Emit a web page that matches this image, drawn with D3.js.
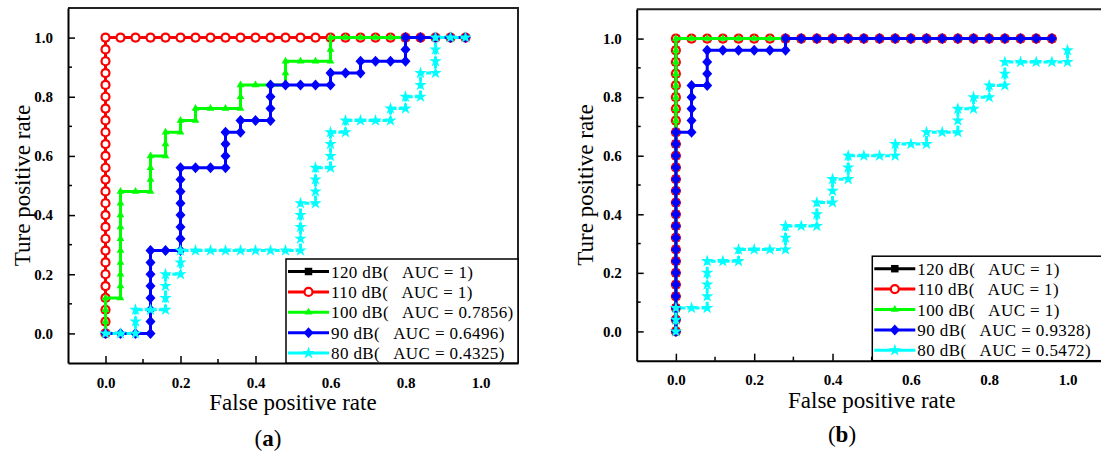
<!DOCTYPE html>
<html>
<head>
<meta charset="utf-8">
<script src="https://cdn.jsdelivr.net/npm/d3@7"></script>
<style>
  body { margin: 0; background: #fff; }
  svg { display: block; }
  text { font-family: "Liberation Serif", "Times New Roman", serif; fill: #000; }
</style>
</head>
<body>
<div id="chart"></div>
<script>
const width = 1101;
const height = 455;

// ROC points [false positive rate, true positive rate]
// perfect classifier (120 dB and 110 dB in (a); 120, 110 and 100 dB in (b))
const rocPerfect = [
    [0,0],[0,0.04],[0,0.08],[0,0.12],[0,0.16],[0,0.2],[0,0.24],[0,0.28],[0,0.32],[0,0.36],
    [0,0.4],[0,0.44],[0,0.48],[0,0.52],[0,0.56],[0,0.6],[0,0.64],[0,0.68],[0,0.72],[0,0.76],
    [0,0.8],[0,0.84],[0,0.88],[0,0.92],[0,0.96],[0,1],[0.04,1],[0.08,1],[0.12,1],[0.16,1],
    [0.2,1],[0.24,1],[0.28,1],[0.32,1],[0.36,1],[0.4,1],[0.44,1],[0.48,1],[0.52,1],[0.56,1],
    [0.6,1],[0.64,1],[0.68,1],[0.72,1],[0.76,1],[0.8,1],[0.84,1],[0.88,1],[0.92,1],[0.96,1]
];

// (a) 100 dB
const rocA100 = [
    [0,0],[0,0.04],[0,0.08],[0,0.12],[0.04,0.12],[0.04,0.16],[0.04,0.2],[0.04,0.24],[0.04,0.28],[0.04,0.32],
    [0.04,0.36],[0.04,0.4],[0.04,0.44],[0.04,0.48],[0.08,0.48],[0.12,0.48],[0.12,0.52],[0.12,0.56],[0.12,0.6],[0.16,0.6],
    [0.16,0.64],[0.16,0.68],[0.2,0.68],[0.2,0.72],[0.24,0.72],[0.24,0.76],[0.28,0.76],[0.32,0.76],[0.36,0.76],[0.36,0.8],
    [0.36,0.84],[0.4,0.84],[0.44,0.84],[0.48,0.84],[0.48,0.88],[0.48,0.92],[0.52,0.92],[0.56,0.92],[0.6,0.92],[0.6,0.96],
    [0.6,1],[0.64,1],[0.68,1],[0.72,1],[0.76,1],[0.8,1],[0.84,1],[0.88,1],[0.92,1],[0.96,1]
];

// (a) 90 dB
const rocA90 = [
    [0,0],[0.04,0],[0.08,0],[0.12,0],[0.12,0.04],[0.12,0.08],[0.12,0.12],[0.12,0.16],[0.12,0.2],[0.12,0.24],
    [0.12,0.28],[0.16,0.28],[0.2,0.28],[0.2,0.32],[0.2,0.36],[0.2,0.4],[0.2,0.44],[0.2,0.48],[0.2,0.52],[0.2,0.56],
    [0.24,0.56],[0.28,0.56],[0.32,0.56],[0.32,0.6],[0.32,0.64],[0.32,0.68],[0.36,0.68],[0.36,0.72],[0.4,0.72],[0.44,0.72],
    [0.44,0.76],[0.44,0.8],[0.44,0.84],[0.48,0.84],[0.52,0.84],[0.56,0.84],[0.6,0.84],[0.6,0.88],[0.64,0.88],[0.68,0.88],
    [0.68,0.92],[0.72,0.92],[0.76,0.92],[0.8,0.92],[0.8,0.96],[0.8,1],[0.84,1],[0.88,1],[0.92,1],[0.96,1]
];

// (a) 80 dB
const rocA80 = [
    [0,0],[0.04,0],[0.08,0],[0.08,0.04],[0.08,0.08],[0.12,0.08],[0.16,0.08],[0.16,0.12],[0.16,0.16],[0.16,0.2],
    [0.2,0.2],[0.2,0.24],[0.2,0.28],[0.24,0.28],[0.28,0.28],[0.32,0.28],[0.36,0.28],[0.4,0.28],[0.44,0.28],[0.48,0.28],
    [0.52,0.28],[0.52,0.32],[0.52,0.36],[0.52,0.4],[0.52,0.44],[0.56,0.44],[0.56,0.48],[0.56,0.52],[0.56,0.56],[0.6,0.56],
    [0.6,0.6],[0.6,0.64],[0.6,0.68],[0.64,0.68],[0.64,0.72],[0.68,0.72],[0.72,0.72],[0.76,0.72],[0.76,0.76],[0.8,0.76],
    [0.8,0.8],[0.84,0.8],[0.84,0.84],[0.84,0.88],[0.88,0.88],[0.88,0.92],[0.88,0.96],[0.88,1],[0.92,1],[0.96,1]
];

// (b) 90 dB
const rocB90 = [
    [0,0],[0,0.04],[0,0.08],[0,0.12],[0,0.16],[0,0.2],[0,0.24],[0,0.28],[0,0.32],[0,0.36],
    [0,0.4],[0,0.44],[0,0.48],[0,0.52],[0,0.56],[0,0.6],[0,0.64],[0,0.68],[0.04,0.68],[0.04,0.72],
    [0.04,0.76],[0.04,0.8],[0.04,0.84],[0.08,0.84],[0.08,0.88],[0.08,0.92],[0.08,0.96],[0.12,0.96],[0.16,0.96],[0.2,0.96],
    [0.24,0.96],[0.28,0.96],[0.28,1],[0.32,1],[0.36,1],[0.4,1],[0.44,1],[0.48,1],[0.52,1],[0.56,1],
    [0.6,1],[0.64,1],[0.68,1],[0.72,1],[0.76,1],[0.8,1],[0.84,1],[0.88,1],[0.92,1],[0.96,1]
];

// (b) 80 dB
const rocB80 = [
    [0,0],[0,0.04],[0,0.08],[0.04,0.08],[0.08,0.08],[0.08,0.12],[0.08,0.16],[0.08,0.2],[0.08,0.24],[0.12,0.24],
    [0.16,0.24],[0.16,0.28],[0.2,0.28],[0.24,0.28],[0.28,0.28],[0.28,0.32],[0.28,0.36],[0.32,0.36],[0.36,0.36],[0.36,0.4],
    [0.36,0.44],[0.4,0.44],[0.4,0.48],[0.4,0.52],[0.44,0.52],[0.44,0.56],[0.44,0.6],[0.48,0.6],[0.52,0.6],[0.56,0.6],
    [0.56,0.64],[0.6,0.64],[0.64,0.64],[0.64,0.68],[0.68,0.68],[0.72,0.68],[0.72,0.72],[0.72,0.76],[0.76,0.76],[0.76,0.8],
    [0.8,0.8],[0.8,0.84],[0.84,0.84],[0.84,0.88],[0.84,0.92],[0.88,0.92],[0.92,0.92],[0.96,0.92],[1,0.92],[1,0.96]
];

const levels = ["120 dB", "110 dB", "100 dB", "90 dB", "80 dB"];
const aucA = ["1", "1", "0.7856", "0.6496", "0.4325"];
const aucB = ["1", "1", "1", "0.9328", "0.5472"];
const majorTicks = [0, 0.2, 0.4, 0.6, 0.8, 1.0];
const minorTicks = [0.1, 0.3, 0.5, 0.7, 0.9];

// style per level: colour + marker
const styles = [
    { color: "#000000", marker: "square" },
    { color: "#ff0000", marker: "circle" },
    { color: "#00ff00", marker: "triangle" },
    { color: "#0000ff", marker: "diamond" },
    { color: "#00ffff", marker: "star", dash: "5,2" }
];

const panels = [
    { left: 68, top: 8, w: 450, h: 355, legendX: 218, legendH: 104,
      data: [rocPerfect, rocPerfect, rocA100, rocA90, rocA80], auc: aucA,
      tag: "a", tagX: 268, tagY: 446, yTitleX: 30, xTitleY: 410 },
    { left: 636.7, top: 9.3, w: 470, h: 351.4, legendX: 235.6, legendH: 104.5,
      data: [rocPerfect, rocPerfect, rocPerfect, rocB90, rocB80], auc: aucB,
      tag: "b", tagX: 842, tagY: 442, yTitleX: 593, xTitleY: 408 }
];

const svg = d3.select("#chart")
    .append("svg")
    .attr("width", width)
    .attr("height", height);

function drawMarker(g, type, color, x, y) {
    if (type === "circle") {
        g.append("circle").attr("cx", x).attr("cy", y).attr("r", 4)
            .attr("fill", "#fff").attr("stroke", color).attr("stroke-width", 2.2);
    } else if (type === "diamond") {
        g.append("path").attr("d", `M${x},${y - 5.5}L${x + 5},${y}L${x},${y + 5.5}L${x - 5},${y}Z`)
            .attr("fill", color);
    } else {
        const sym = { square: d3.symbolSquare, triangle: d3.symbolTriangle, star: d3.symbolStar }[type];
        const size = { square: 56, triangle: 26, star: 48 }[type];
        g.append("path").attr("transform", `translate(${x},${y})`)
            .attr("d", d3.symbol(sym, size)()).attr("fill", color);
    }
}

panels.forEach(p => {
    const x = d3.scaleLinear().domain([-0.1, 1.1]).range([p.left, p.left + p.w]);
    const y = d3.scaleLinear().domain([-0.1, 1.1]).range([p.top + p.h, p.top]);
    const g = svg.append("g");

    // frame (top and right lines)
    g.append("path")
        .attr("d", `M${p.left},${p.top}H${p.left + p.w}V${p.top + p.h}`)
        .attr("fill", "none").attr("stroke", "#222").attr("stroke-width", 2);

    // bottom axis, ticks inward
    const xAxis = g.append("g").attr("transform", `translate(0,${p.top + p.h})`)
        .call(d3.axisBottom(x).tickValues(majorTicks).tickSizeInner(-7).tickSizeOuter(0)
            .tickFormat(d3.format(".1f")).tickPadding(14));
    xAxis.append("g").selectAll("line").data(minorTicks).join("line")
        .attr("x1", d => x(d)).attr("x2", d => x(d)).attr("y1", 0).attr("y2", -4)
        .attr("stroke", "#000").attr("stroke-width", 1.5);

    const yAxis = g.append("g").attr("transform", `translate(${p.left},0)`)
        .call(d3.axisLeft(y).tickValues(majorTicks).tickSizeInner(-7).tickSizeOuter(0)
            .tickFormat(d3.format(".1f")).tickPadding(15));
    yAxis.append("g").selectAll("line").data(minorTicks).join("line")
        .attr("y1", d => y(d)).attr("y2", d => y(d)).attr("x1", 0).attr("x2", 4)
        .attr("stroke", "#000").attr("stroke-width", 1.5);

    [xAxis, yAxis].forEach(a => {
        a.select(".domain").attr("stroke", "#000").attr("stroke-width", 2);
        a.selectAll(".tick line").attr("stroke-width", 1.5);
        a.selectAll(".tick text")
            .style("font-family", "'Liberation Serif', serif")
            .style("font-size", "15px").style("font-weight", "bold");
    });

    // curves
    const line = d3.line().x(d => x(d[0])).y(d => y(d[1]));
    p.data.forEach((pts, i) => {
        const s = styles[i];
        const cg = g.append("g");
        cg.append("path").datum(pts).attr("d", line)
            .attr("fill", "none").attr("stroke", s.color).attr("stroke-width", 3)
            .attr("stroke-dasharray", s.dash || null);
        pts.forEach(d => drawMarker(cg, s.marker, s.color, x(d[0]), y(d[1])));
    });

    // legend
    const lx = p.left + p.legendX;
    const ly = p.top + p.h - p.legendH;
    const lg = g.append("g");
    lg.append("rect").attr("x", lx).attr("y", ly)
        .attr("width", p.left + p.w - lx).attr("height", p.legendH)
        .attr("fill", "#fff").attr("stroke", "#000").attr("stroke-width", 1.5);
    levels.forEach((lvl, i) => {
        const s = styles[i];
        const ry = ly + 12.5 + i * 20.4;
        lg.append("line").attr("x1", lx + 2).attr("x2", lx + 43).attr("y1", ry).attr("y2", ry)
            .attr("stroke", s.color).attr("stroke-width", 3);
        drawMarker(lg, s.marker, s.color, lx + 22.5, ry);
        lg.append("text").attr("x", lx + 45).attr("y", ry + 6)
            .attr("xml:space", "preserve")
            .style("font-size", "17px")
            .style("letter-spacing", "0.4px")
            .text(`${lvl}(   AUC = ${p.auc[i]})`);
    });

    // axis titles
    g.append("text").attr("x", p.left + p.w / 2).attr("y", p.xTitleY)
        .attr("text-anchor", "middle").style("font-size", "23px")
        .text("False positive rate");
    g.append("text")
        .attr("transform", `translate(${p.yTitleX},${p.top + p.h / 2}) rotate(-90)`)
        .attr("text-anchor", "middle").style("font-size", "23px")
        .text("Ture positive rate");

    // panel tag
    const t = g.append("text").attr("x", p.tagX).attr("y", p.tagY)
        .attr("text-anchor", "middle").style("font-size", "23px");
    t.append("tspan").text("(");
    t.append("tspan").style("font-weight", "bold").text(p.tag);
    t.append("tspan").text(")");
});
</script>
</body>
</html>
